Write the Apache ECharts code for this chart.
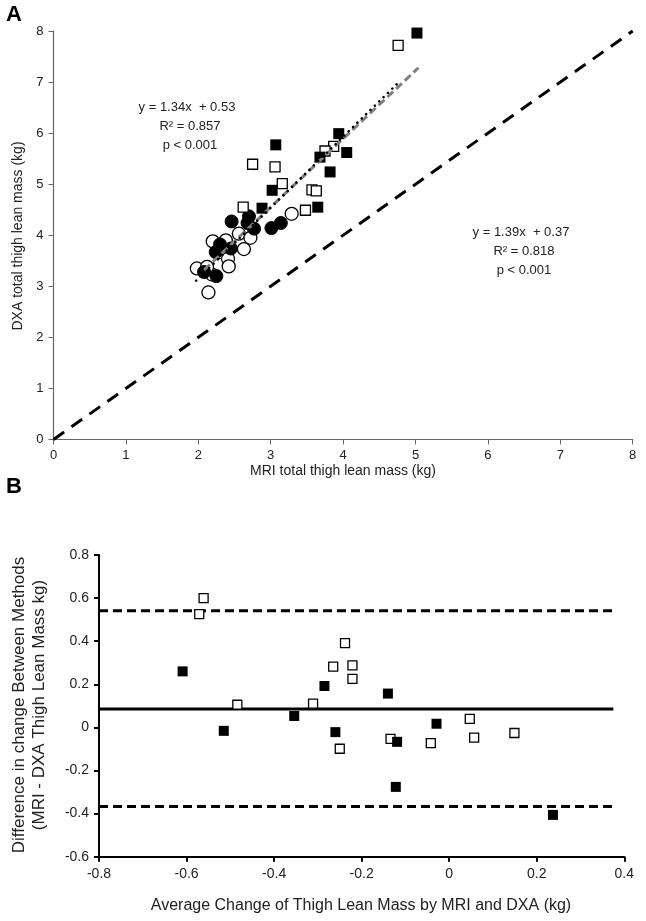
<!DOCTYPE html>
<html>
<head>
<meta charset="utf-8">
<script src="https://cdn.jsdelivr.net/npm/echarts@6/dist/echarts.min.js"></script>
<style>
html,body{margin:0;padding:0;background:#fff;}
#chart{width:646px;height:921px;}
</style>
</head>
<body>
<div id="chart"></div>
<script>
// ---- Panel A data (MRI x, DXA y) ----
var aFilledSqX = [5.02, 3.94, 4.05, 3.68, 3.07, 3.82, 3.02, 2.88, 3.65];
var aFilledSqY = [7.96, 5.99, 5.62, 5.53, 5.77, 5.24, 4.88, 4.53, 4.55];
var aOpenSqX = [4.76, 3.87, 3.75, 2.75, 3.06, 3.16, 3.57, 3.63, 2.62, 3.48];
var aOpenSqY = [7.72, 5.74, 5.65, 5.39, 5.34, 5.01, 4.89, 4.87, 4.55, 4.49];
var aFilledCiX = [2.70, 2.46, 2.68, 2.77, 3.01, 3.14, 2.45, 2.24, 2.08, 2.25, 2.30];
var aFilledCiY = [4.37, 4.27, 4.24, 4.13, 4.14, 4.24, 3.74, 3.67, 3.28, 3.20, 3.82];
var aOpenCiX = [3.29, 2.56, 2.72, 2.20, 2.38, 2.63, 2.29, 2.41, 2.42, 1.98, 2.19, 2.14, 2.12];
var aOpenCiY = [4.42, 4.03, 3.95, 3.88, 3.90, 3.73, 3.67, 3.54, 3.39, 3.35, 3.23, 2.88, 3.38];
var aIdentityX = [0, 8];
var aIdentityY = [0, 8];
var aDotFitX = [1.97, 4.75];
var aDotFitY = [3.11, 6.97];
var aGrayFitX = [2.08, 5.04];
var aGrayFitY = [3.32, 7.28];
var aTicks = [0, 1, 2, 3, 4, 5, 6, 7, 8];

// ---- Panel B data (Bland-Altman) ----
var bOpenX = [-0.561, -0.571, -0.484, -0.311, -0.238, -0.265, -0.221, -0.221, -0.250, -0.134, -0.042, 0.047, 0.057, 0.149];
var bOpenY = [0.600, 0.526, 0.105, 0.110, 0.391, 0.282, 0.288, 0.225, -0.099, -0.053, -0.073, 0.040, -0.047, -0.026];
var bFilledX = [-0.609, -0.515, -0.354, -0.285, -0.260, -0.140, -0.119, -0.122, -0.029, 0.237];
var bFilledY = [0.260, -0.016, 0.053, 0.192, -0.022, 0.157, -0.067, -0.276, 0.017, -0.406];
var bLineX = [-0.8, 0.375];
var bMean = 0.085;
var bUpper = 0.541;
var bLower = -0.367;
var bXTicks = ['-0.8', '-0.6', '-0.4', '-0.2', '0', '0.2', '0.4'];
var bYTicks = ['-0.6', '-0.4', '-0.2', '0', '0.2', '0.4', '0.6', '0.8'];

function zip(xs, ys) { return xs.map(function (x, i) { return [x, ys[i]]; }); }

var FONT = 'Liberation Sans';
var tickFontA = { color: '#222', fontSize: 13, fontFamily: FONT };
var tickFontB = { color: '#222', fontSize: 14, fontFamily: FONT };

var chart = echarts.init(document.getElementById('chart'), null, { renderer: 'canvas' });

var option = {
  animation: false,
  backgroundColor: '#fff',
  grid: [
    { left: 53.5, right: 13.3, top: 31, height: 408.5 },
    { left: 99, right: 21.7, top: 555, height: 301.7 }
  ],
  xAxis: [
    {
      gridIndex: 0, type: 'value', min: 0, max: 8, interval: 1,
      axisLine: { onZero: false, lineStyle: { color: '#666', width: 1.2 } },
      axisTick: { show: true, inside: false, length: 5, lineStyle: { color: '#666' } },
      axisLabel: Object.assign({ margin: 9, formatter: function (v) { return String(aTicks[Math.round(v)]); } }, tickFontA),
      splitLine: { show: false }
    },
    {
      gridIndex: 1, type: 'value', min: -0.8, max: 0.4, interval: 0.2,
      axisLine: { onZero: false, lineStyle: { color: '#000', width: 2 } },
      axisTick: { show: true, inside: false, length: 5, lineStyle: { color: '#000', width: 2 } },
      axisLabel: Object.assign({ margin: 10, formatter: function (v) { return bXTicks[Math.round((v + 0.8) / 0.2)]; } }, tickFontB),
      splitLine: { show: false }
    }
  ],
  yAxis: [
    {
      gridIndex: 0, type: 'value', min: 0, max: 8, interval: 1,
      axisLine: { show: true, onZero: false, lineStyle: { color: '#666', width: 1.2 } },
      axisTick: { show: true, inside: false, length: 5, lineStyle: { color: '#666' } },
      axisLabel: Object.assign({ margin: 10, formatter: function (v) { return String(aTicks[Math.round(v)]); } }, tickFontA),
      splitLine: { show: false }
    },
    {
      gridIndex: 1, type: 'value', min: -0.6, max: 0.8, interval: 0.2,
      axisLine: { show: true, onZero: false, lineStyle: { color: '#000', width: 2 } },
      axisTick: { show: true, inside: false, length: 5, lineStyle: { color: '#000', width: 2 } },
      axisLabel: Object.assign({ margin: 10, formatter: function (v) { return bYTicks[Math.round((v + 0.6) / 0.2)]; } }, tickFontB),
      splitLine: { show: false }
    }
  ],
  series: [
    // Panel A
    {
      type: 'line', xAxisIndex: 0, yAxisIndex: 0, data: zip(aIdentityX, aIdentityY),
      showSymbol: false, symbol: 'none', silent: true,
      lineStyle: { color: '#000', width: 3, type: [13, 9] }, z: 1
    },
    {
      type: 'scatter', xAxisIndex: 0, yAxisIndex: 0, data: zip(aOpenCiX, aOpenCiY),
      symbol: 'circle', symbolSize: 13,
      itemStyle: { color: '#fff', borderColor: '#000', borderWidth: 1.3, opacity: 1 }, z: 3
    },
    {
      type: 'scatter', xAxisIndex: 0, yAxisIndex: 0, data: zip(aFilledCiX, aFilledCiY),
      symbol: 'circle', symbolSize: 13,
      itemStyle: { color: '#000', borderColor: '#000', borderWidth: 1, opacity: 1 }, z: 3
    },
    {
      type: 'scatter', xAxisIndex: 0, yAxisIndex: 0, data: zip(aOpenSqX, aOpenSqY),
      symbol: 'rect', symbolSize: 10,
      itemStyle: { color: '#fff', borderColor: '#000', borderWidth: 1.3, opacity: 1 }, z: 3
    },
    {
      type: 'scatter', xAxisIndex: 0, yAxisIndex: 0, data: zip(aFilledSqX, aFilledSqY),
      symbol: 'rect', symbolSize: 11,
      itemStyle: { color: '#000', opacity: 1 }, z: 3
    },
    {
      type: 'line', xAxisIndex: 0, yAxisIndex: 0, data: zip(aGrayFitX, aGrayFitY),
      showSymbol: false, symbol: 'none', silent: true,
      lineStyle: { color: '#808080', width: 3, type: [8, 4] }, z: 4
    },
    {
      type: 'line', xAxisIndex: 0, yAxisIndex: 0, data: zip(aDotFitX, aDotFitY),
      showSymbol: false, symbol: 'none', silent: true,
      lineStyle: { color: '#000', width: 2.6, type: [0.1, 6], cap: 'round' }, z: 5
    },
    // Panel B
    {
      type: 'line', xAxisIndex: 1, yAxisIndex: 1, data: zip(bLineX, [bMean, bMean]),
      showSymbol: false, symbol: 'none', silent: true,
      lineStyle: { color: '#000', width: 3 }, z: 1
    },
    {
      type: 'line', xAxisIndex: 1, yAxisIndex: 1, data: zip(bLineX, [bUpper, bUpper]),
      showSymbol: false, symbol: 'none', silent: true,
      lineStyle: { color: '#000', width: 3, type: [9, 5] }, z: 1
    },
    {
      type: 'line', xAxisIndex: 1, yAxisIndex: 1, data: zip(bLineX, [bLower, bLower]),
      showSymbol: false, symbol: 'none', silent: true,
      lineStyle: { color: '#000', width: 3, type: [9, 5] }, z: 1
    },
    {
      type: 'scatter', xAxisIndex: 1, yAxisIndex: 1, data: zip(bOpenX, bOpenY),
      symbol: 'rect', symbolSize: 9,
      itemStyle: { color: '#fff', borderColor: '#000', borderWidth: 1.3, opacity: 1 }, z: 3
    },
    {
      type: 'scatter', xAxisIndex: 1, yAxisIndex: 1, data: zip(bFilledX, bFilledY),
      symbol: 'rect', symbolSize: 10,
      itemStyle: { color: '#000', opacity: 1 }, z: 3
    }
  ],
  graphic: [
    { type: 'text', left: 6, top: 4, style: { text: 'A', font: 'bold 22px ' + FONT, fill: '#000' } },
    { type: 'text', left: 6, top: 476, style: { text: 'B', font: 'bold 22px ' + FONT, fill: '#000' } },
    { type: 'text', x: 187, y: 107, style: { text: 'y = 1.34x  + 0.53', font: '13px ' + FONT, fill: '#222', textAlign: 'center', textVerticalAlign: 'middle' } },
    { type: 'text', x: 190, y: 126, style: { text: 'R\u00B2 = 0.857', font: '13px ' + FONT, fill: '#222', textAlign: 'center', textVerticalAlign: 'middle' } },
    { type: 'text', x: 190, y: 145, style: { text: 'p < 0.001', font: '13px ' + FONT, fill: '#222', textAlign: 'center', textVerticalAlign: 'middle' } },
    { type: 'text', x: 521, y: 232, style: { text: 'y = 1.39x  + 0.37', font: '13px ' + FONT, fill: '#222', textAlign: 'center', textVerticalAlign: 'middle' } },
    { type: 'text', x: 524, y: 251, style: { text: 'R\u00B2 = 0.818', font: '13px ' + FONT, fill: '#222', textAlign: 'center', textVerticalAlign: 'middle' } },
    { type: 'text', x: 524, y: 270, style: { text: 'p < 0.001', font: '13px ' + FONT, fill: '#222', textAlign: 'center', textVerticalAlign: 'middle' } },
    { type: 'text', x: 343, y: 471, style: { text: 'MRI total thigh lean mass (kg)', font: '14px ' + FONT, fill: '#222', textAlign: 'center', textVerticalAlign: 'middle' } },
    { type: 'text', x: 18, y: 236, rotation: Math.PI / 2, style: { text: 'DXA total thigh lean mass (kg)', font: '14px ' + FONT, fill: '#222', textAlign: 'center', textVerticalAlign: 'middle' } },
    { type: 'text', x: 361, y: 906, style: { text: 'Average Change of Thigh Lean Mass by MRI and DXA (kg)', font: '16px ' + FONT, fill: '#222', textAlign: 'center', textVerticalAlign: 'middle' } },
    { type: 'text', x: 19, y: 705, rotation: Math.PI / 2, style: { text: 'Difference in change Between Methods', font: '17px ' + FONT, fill: '#222', textAlign: 'center', textVerticalAlign: 'middle' } },
    { type: 'text', x: 39, y: 705, rotation: Math.PI / 2, style: { text: '(MRI - DXA Thigh Lean Mass kg)', font: '17px ' + FONT, fill: '#222', textAlign: 'center', textVerticalAlign: 'middle' } }
  ]
};
chart.setOption(option);
</script>
</body>
</html>
